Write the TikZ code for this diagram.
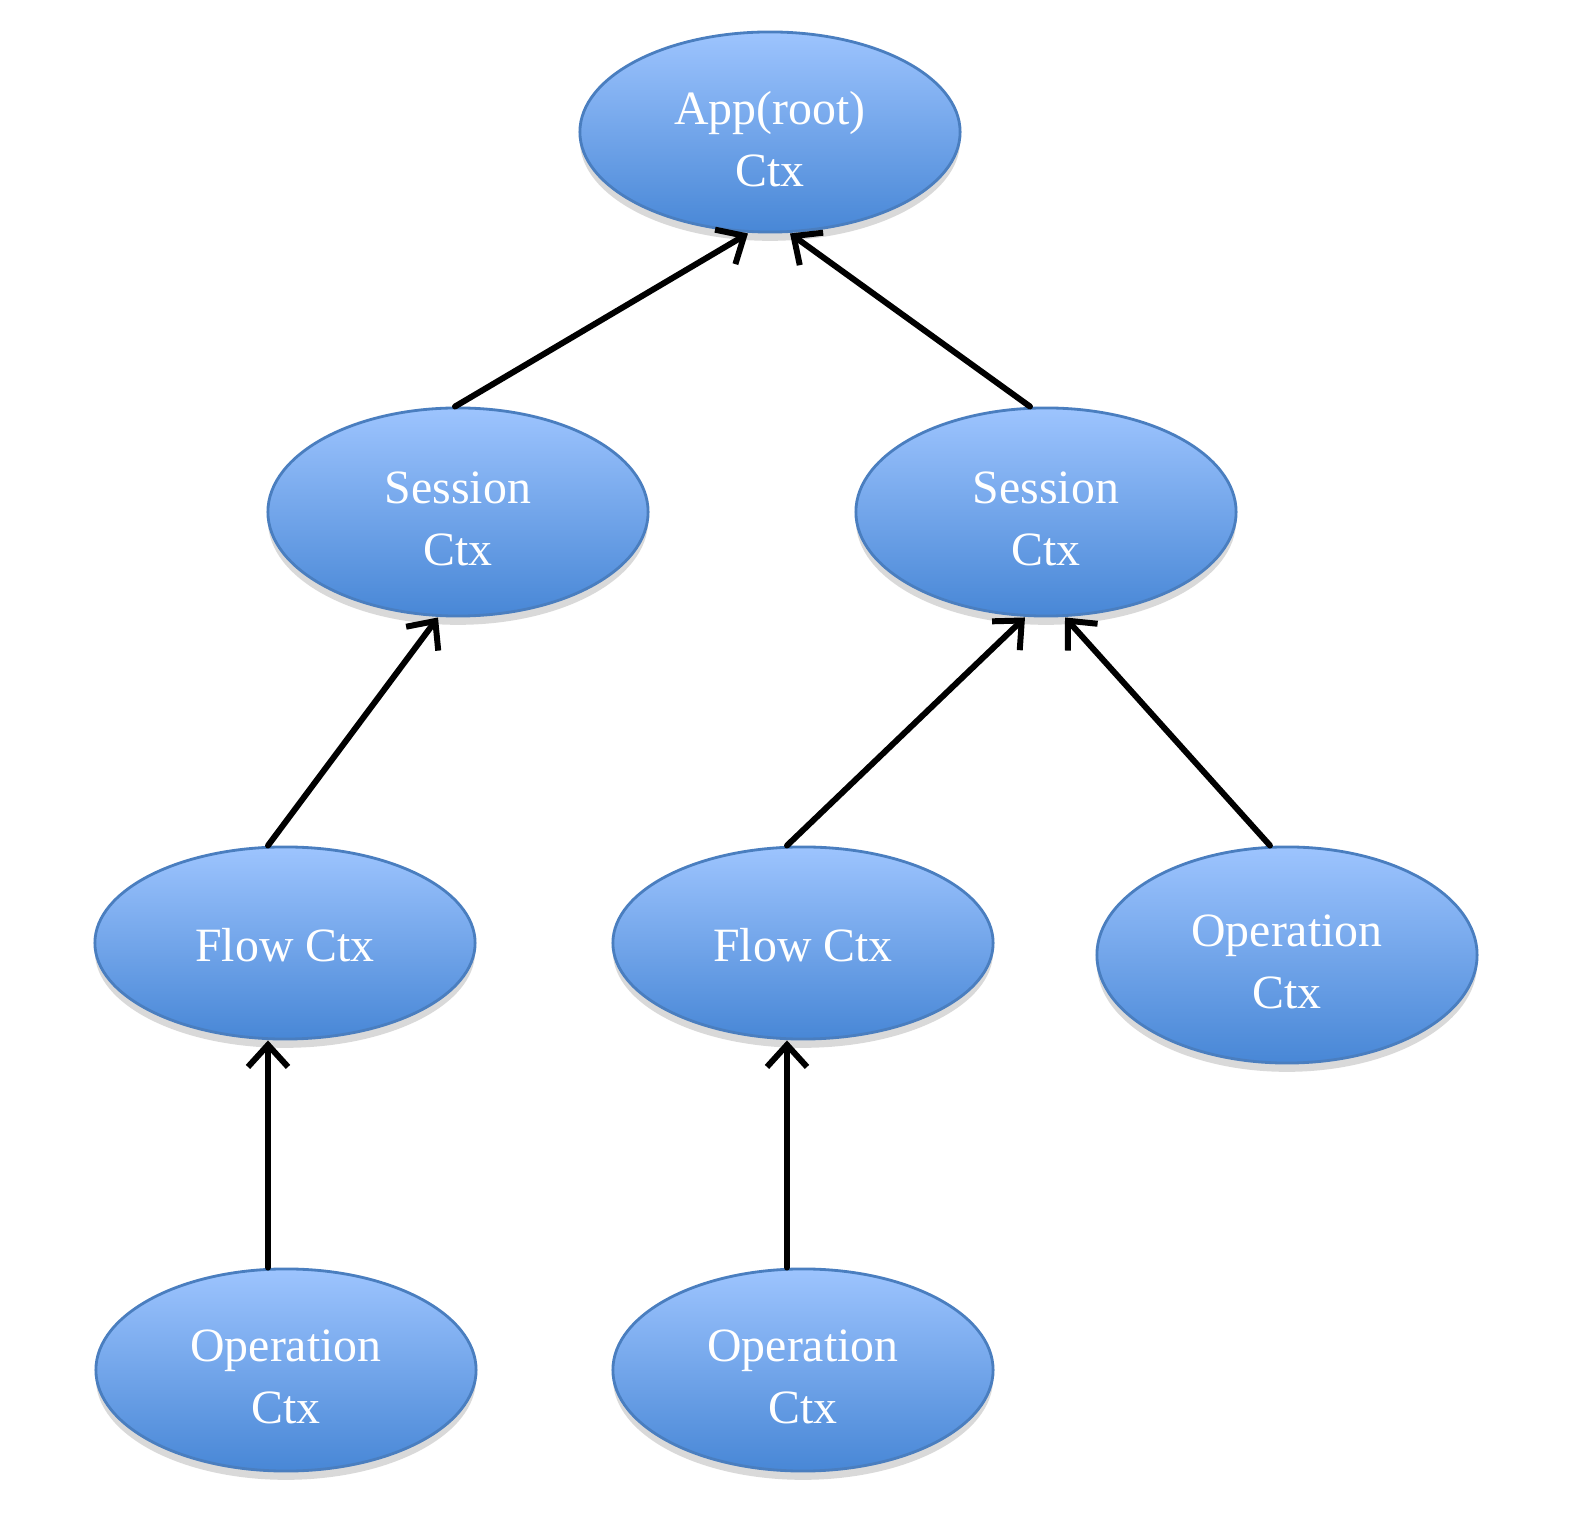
\documentclass[tikz,border=0pt]{standalone}
\usepackage{fontspec}
\setmainfont{Liberation Serif}
\usetikzlibrary{shapes.geometric,arrows.meta,shadows}
\definecolor{topblue}{HTML}{9DC4FE}
\definecolor{botblue}{HTML}{4887D6}
\definecolor{edgeblue}{HTML}{4A7EBF}
\tikzset{
  ctx/.style={ellipse, draw=edgeblue, line width=0.8pt, top color=topblue, bottom color=botblue,
    minimum width=3.8cm, inner sep=0pt,
    drop shadow={opacity=0.15, shadow xshift=0pt, shadow yshift=-2.5pt, fill=black}},
  lbl/.style={inner sep=0pt, align=center, text=white,
    font=\fontsize{13.6pt}{17.6pt}\selectfont},
  link/.style={line width=1.7pt, -{Straight Barb[length=0.22cm, width=0.4cm, line width=1.7pt]}, line cap=round}
}
\begin{document}
\begin{tikzpicture}[x=0.01cm, y=-0.01cm]
\useasboundingbox (0,0) rectangle (1572,1540);
\node[ctx, minimum height=2.0cm] (app) at (770,132) {};
\node[ctx, minimum height=2.08cm] (sesl) at (458,512) {};
\node[ctx, minimum height=2.08cm] (sesr) at (1046,512) {};
\node[ctx, minimum height=1.92cm] (flowl) at (285,943) {};
\node[ctx, minimum height=1.92cm] (flowr) at (803,943) {};
\node[ctx, minimum height=2.16cm] (opr) at (1287,955) {};
\node[ctx, minimum height=2.02cm] (opbl) at (286,1370) {};
\node[ctx, minimum height=2.02cm] (opbm) at (803,1370) {};

\node[lbl] (appt) at ([yshift=-0.07cm]app.center) {App(root)\\Ctx};
\node[lbl] (seslt) at ([yshift=-0.065cm]sesl.center) {Session\\Ctx};
\node[lbl] (sesrt) at ([yshift=-0.065cm]sesr.center) {Session\\Ctx};
\node[lbl] (flowlt) at ([yshift=-0.02cm]flowl.center) {Flow Ctx};
\node[lbl] (flowrt) at ([yshift=-0.02cm]flowr.center) {Flow Ctx};
\node[lbl] (oprt) at ([yshift=-0.065cm]opr.center) {Operation\\Ctx};
\node[lbl] (opblt) at ([yshift=-0.065cm]opbl.center) {Operation\\Ctx};
\node[lbl] (opbmt) at ([yshift=-0.065cm]opbm.center) {Operation\\Ctx};

\draw[link] ([xshift=-0.03cm]sesl.north) -- ([xshift=-0.22cm]app.south);
\draw[link] ([xshift=-0.16cm]sesr.north) -- ([xshift=0.20cm]app.south);
\draw[link] ([xshift=-0.17cm]flowl.north) -- ([xshift=-0.20cm]sesl.south);
\draw[link] ([xshift=-0.16cm]flowr.north) -- ([xshift=-0.21cm]sesr.south);
\draw[link] ([xshift=-0.17cm]opr.north) -- ([xshift=0.19cm]sesr.south);
\draw[link] ([xshift=-0.18cm]opbl.north) -- ([xshift=-0.17cm]flowl.south);
\draw[link] ([xshift=-0.16cm]opbm.north) -- ([xshift=-0.16cm]flowr.south);
\end{tikzpicture}
\end{document}
